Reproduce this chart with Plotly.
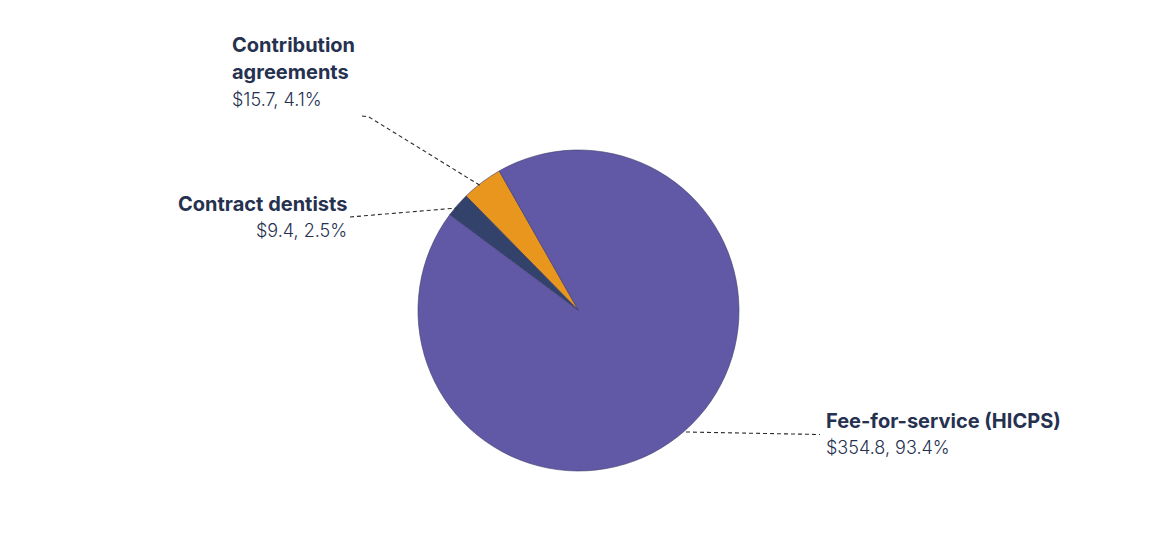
import plotly.graph_objects as go

# Data (order = counter-clockwise from the start angle)
labels = ['Contribution agreements', 'Contract dentists', 'Fee-for-service (HICPS)']
values = [15.7, 9.4, 354.8]
shares = ['4.1%', '2.5%', '93.4%']
colors = ['#E8961E', '#33426A', '#6158A6']

W, H = 1170, 536
OFF = 8  # page body margin in the browser
SIDE = 321
L, T = 418 - OFF, 150 - OFF
R, B = W - L - SIDE, H - T - SIDE


def px(x):
    return (x - OFF - L) / SIDE


def py(y):
    return (T + SIDE - (y - OFF)) / SIDE


# edge between the orange and purple slices sits ~29.6 deg left of 12 o'clock
first_span = 360 * values[0] / sum(values)
start_rot = -29.6 - first_span

fig = go.Figure()
fig.add_trace(go.Pie(
    labels=labels,
    values=values,
    sort=False,
    direction='counterclockwise',
    rotation=start_rot,
    textinfo='none',
    hoverinfo='label+value+percent',
    marker=dict(colors=colors, line=dict(color='#3a3d6a', width=0.6)),
    showlegend=False,
))

TXT = '#263150'
FONT = 'Inter, Lato, sans-serif'

# label text: (text, x px, y centre px, anchor, bold)
lines = [
    ('Contribution', 230, 45, 'left', True),
    ('agreements', 230, 72, 'left', True),
    (f'${values[0]}, {shares[0]}', 230, 99.5, 'left', False),
    ('Contract dentists', 349, 203.5, 'right', True),
    (f'${values[1]}, {shares[1]}', 349, 230.5, 'right', False),
    ('Fee-for-service (HICPS)', 824, 420.5, 'left', True),
    (f'${values[2]}, {shares[2]}', 824, 447.5, 'left', False),
]

annotations = []
for text, x, y, anchor, bold in lines:
    annotations.append(dict(
        text=text, x=px(x), y=py(y), xref='paper', yref='paper',
        xanchor=anchor, yanchor='middle', showarrow=False,
        font=dict(family=FONT, size=20 if bold else 18, color=TXT,
                  weight=700 if bold else 300),
    ))

# dashed leader lines
leaders = [
    [(362, 116), (369, 117), (481, 186)],
    [(350, 217), (457, 208)],
    [(686, 432), (820, 434.5)],
]
shapes = []
for pts in leaders:
    for (x0, y0), (x1, y1) in zip(pts[:-1], pts[1:]):
        shapes.append(dict(
            type='line', xref='paper', yref='paper',
            x0=px(x0), y0=py(y0), x1=px(x1), y1=py(y1),
            line=dict(color='#2b2b2b', width=1.1, dash='4px,3px'),
        ))

fig.update_layout(
    width=W, height=H,
    margin=dict(l=L, r=R, t=T, b=B),
    paper_bgcolor='white', plot_bgcolor='white',
    annotations=annotations,
    shapes=shapes,
)

fig.write_html('out.html')
